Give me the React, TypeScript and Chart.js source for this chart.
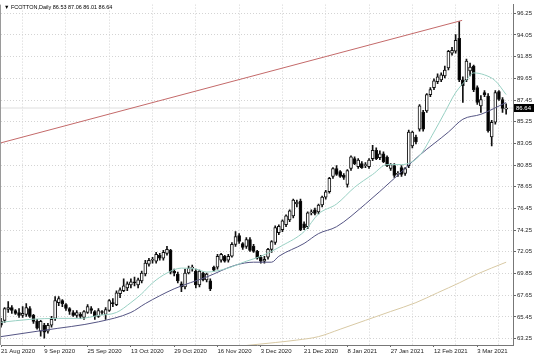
import React, { useEffect, useRef } from 'react';
import { Chart, registerables } from 'chart.js';

Chart.register(...registerables);

const symbolTitle = '\u25BC FCOTTON,Daily';
const lastOHLC = [86.53, 87.06, 86.01, 86.64];
const lastPrice = 86.64;

const dateLabels = ['21 Aug 2020', '9 Sep 2020', '25 Sep 2020', '13 Oct 2020', '29 Oct 2020', '16 Nov 2020', '3 Dec 2020', '21 Dec 2020', '8 Jan 2021', '27 Jan 2021', '12 Feb 2021', '3 Mar 2021'];
const dateLabelBars = [0, 12, 24, 36, 48, 60, 72, 84, 96, 108, 120, 132];
const gridBars = [6, 18, 30, 42, 54, 66, 78, 90, 102, 114, 126, 138];
const yTickValues = [63.25, 65.45, 67.65, 69.85, 72.05, 74.25, 76.45, 78.65, 80.85, 83.05, 85.25, 87.45, 89.65, 91.85, 94.05, 96.25];

const opens = [
  65.0, 65.1, 66.2, 66.4, 66.1, 65.9, 65.6, 65.7, 66.3, 65.6,
  65.0, 64.0, 64.6, 64.0, 64.6, 65.3, 66.9, 67.1, 66.7, 66.3,
  65.9, 65.6, 65.7, 65.4, 65.9, 66.3, 66.0, 65.5, 66.0, 65.7,
  66.1, 66.9, 66.7, 67.8, 68.1, 68.4, 68.7, 69.0, 68.7, 69.1,
  69.8, 70.8, 71.2, 71.1, 71.7, 71.4, 71.9, 72.2, 70.1, 69.8,
  68.8, 68.5, 69.9, 70.4, 70.1, 68.7, 69.9, 69.2, 69.1, 70.5,
  70.5, 71.2, 71.6, 71.2, 71.6, 72.8, 73.7, 72.9, 72.6, 73.3,
  72.6, 72.1, 71.5, 71.1, 71.5, 72.3, 73.0, 74.0, 74.3, 74.8,
  75.3, 75.7, 76.9, 77.2, 74.9, 74.6, 76.0, 76.3, 76.1, 76.8,
  77.6, 78.15, 79.7, 80.5, 80.2, 79.8, 78.9, 80.5, 81.5, 80.7,
  81.0, 80.8, 80.7, 81.5, 82.35, 81.6, 82.0, 81.65, 80.5, 80.8,
  79.9, 80.6, 80.0, 80.8, 82.8, 83.7, 84.5, 86.2, 86.35, 88.0,
  88.7, 89.3, 89.5, 89.9, 90.7, 92.2, 92.4, 93.7, 89.5, 89.5,
  90.4, 90.9, 88.7, 86.85, 88.2, 87.85, 83.7, 85.2, 88.3, 87.5,
  86.53,
];
const highs = [
  65.3, 66.4, 67.0, 66.6, 66.2, 66.3, 66.5, 66.8, 66.5, 65.7,
  65.2, 65.1, 64.8, 64.8, 65.5, 67.5, 67.5, 67.2, 66.8, 66.4,
  66.1, 66.1, 65.9, 66.1, 66.7, 66.5, 66.1, 66.3, 66.1, 66.4,
  67.2, 67.3, 68.1, 68.4, 69.3, 69.0, 69.3, 69.5, 69.4, 70.1,
  71.2, 71.4, 71.5, 72.0, 71.9, 72.2, 72.6, 72.3, 70.3, 70.0,
  69.0, 70.3, 70.6, 70.7, 70.3, 70.2, 70.0, 69.9, 69.3, 70.6,
  71.8, 71.9, 71.7, 71.8, 73.0, 74.1, 73.9, 73.0, 73.5, 73.5,
  72.8, 72.2, 71.7, 71.6, 72.4, 73.2, 74.7, 74.8, 75.3, 75.8,
  76.3, 77.4, 77.3, 77.4, 75.1, 76.1, 76.3, 76.5, 76.9, 77.7,
  78.3, 79.6, 80.6, 80.8, 80.3, 80.0, 80.4, 81.8, 81.7, 81.5,
  81.2, 81.1, 81.5, 82.85, 82.6, 82.3, 82.2, 81.8, 81.0, 81.0,
  80.2, 80.8, 80.6, 84.4, 84.3, 83.9, 87.0, 86.4, 88.1, 88.7,
  89.6, 90.1, 90.2, 90.9, 92.5, 92.8, 94.1, 95.4, 89.8, 91.6,
  91.2, 91.0, 88.9, 87.9, 88.4, 88.1, 85.4, 88.4, 88.4, 87.7,
  87.06,
];
const lows = [
  64.4, 64.9, 65.9, 65.8, 65.7, 65.4, 65.4, 65.5, 65.4, 64.8,
  64.2, 63.5, 63.3, 63.8, 64.4, 65.1, 66.6, 66.5, 66.1, 65.7,
  65.5, 65.4, 65.3, 65.2, 65.8, 65.8, 65.2, 65.4, 65.7, 65.2,
  66.0, 66.5, 66.6, 67.4, 68.0, 68.1, 68.4, 68.6, 68.4, 68.9,
  69.6, 70.6, 70.9, 70.9, 71.2, 71.2, 71.7, 69.8, 69.6, 68.9,
  68.0, 68.3, 69.8, 70.1, 68.4, 68.5, 69.1, 69.0, 68.1, 70.1,
  70.3, 71.0, 71.0, 71.0, 71.5, 72.6, 72.9, 72.3, 72.4, 72.1,
  72.0, 71.3, 70.9, 70.9, 71.3, 72.0, 72.8, 73.8, 74.1, 74.6,
  75.1, 75.5, 76.6, 74.2, 74.3, 74.4, 75.8, 75.8, 75.9, 76.6,
  77.4, 78.0, 79.5, 79.8, 79.6, 79.4, 78.6, 80.3, 80.9, 80.5,
  80.5, 80.6, 80.5, 81.3, 81.4, 81.4, 81.1, 80.7, 80.3, 79.6,
  79.7, 79.7, 79.8, 80.6, 82.6, 83.0, 84.3, 84.3, 86.2, 87.8,
  88.5, 89.1, 89.3, 89.7, 90.5, 92.0, 92.2, 89.3, 87.2, 89.3,
  89.9, 88.3, 87.0, 86.2, 87.8, 84.2, 82.8, 85.0, 87.4, 86.2,
  86.01,
];
const closes = [
  64.6, 66.3, 66.4, 66.1, 65.8, 65.6, 65.8, 66.4, 65.5, 65.0,
  64.3, 65.0, 63.9, 64.6, 65.2, 67.1, 67.3, 66.8, 66.3, 66.0,
  65.6, 65.9, 65.5, 66.0, 66.5, 66.1, 65.5, 66.1, 65.9, 66.2,
  67.1, 66.8, 67.9, 68.2, 68.6, 68.8, 69.0, 68.9, 69.2, 69.9,
  70.9, 71.2, 71.3, 71.8, 71.4, 72.0, 72.3, 70.0, 69.9, 69.1,
  68.5, 69.9, 70.4, 70.5, 68.7, 70.1, 69.2, 69.8, 68.3, 70.2,
  71.6, 71.8, 71.1, 71.6, 72.8, 73.6, 73.1, 72.5, 73.3, 72.2,
  72.1, 71.4, 71.1, 71.3, 72.3, 73.1, 74.5, 74.65, 75.2, 75.7,
  76.2, 77.3, 77.1, 74.3, 74.5, 76.0, 76.1, 75.96, 76.8, 77.6,
  78.15, 79.5, 80.5, 79.9, 79.7, 79.6, 80.3, 81.7, 81.0, 81.35,
  80.6, 80.9, 81.35, 82.35, 81.5, 82.0, 81.2, 80.8, 80.9, 79.8,
  80.0, 79.9, 80.5, 84.2, 84.2, 83.2, 86.85, 84.5, 88.0, 88.5,
  89.4, 89.8, 90.0, 90.5, 92.4, 92.5, 93.5, 89.5, 88.9, 91.4,
  90.8, 88.5, 87.2, 87.5, 88.0, 84.35, 85.2, 88.2, 87.5, 86.6,
  86.64,
];

const fastMaBars = [0, 8, 16, 22, 27, 32, 36, 39, 42, 46, 50, 54, 57, 62, 68, 72, 78, 84, 88, 93, 98, 103, 107, 111, 116, 120, 123, 126, 129, 131, 134, 137, 140];
const fastMaValues = [64.9, 65.2, 65.3, 65.3, 65.6, 65.9, 66.9, 67.8, 68.9, 69.9, 70.4, 70.3, 70.0, 70.3, 71.1, 71.6, 72.7, 74.1, 75.9, 76.9, 78.6, 79.9, 80.9, 80.9, 81.8, 84.2, 86.2, 88.2, 89.5, 90.2, 90.0, 89.4, 88.0];

const slowMaBars = [0, 12, 27, 36, 40, 48, 57, 65, 70, 75, 77, 84, 88, 93, 101, 109, 116, 124, 128, 133, 140];
const slowMaValues = [63.45, 64.1, 64.95, 65.9, 66.8, 68.3, 69.5, 70.7, 71.0, 71.0, 71.6, 72.9, 73.9, 74.6, 76.9, 79.5, 81.85, 84.2, 85.5, 86.0, 87.2];

const longMaBars = [68, 76, 82, 88, 94, 101, 108, 115, 121, 127, 132, 140];
const longMaValues = [62.55, 62.85, 63.1, 63.45, 64.2, 65.1, 66.0, 66.9, 67.9, 68.9, 69.8, 71.0];

const trendBars = [-0.3, 127.8];
const trendValues = [83.08, 95.53];

const AXIS_FONT = { family: '"Liberation Sans", Arial, sans-serif', size: 6 };

export default function App() {
  const ref = useRef<HTMLCanvasElement | null>(null);

  useEffect(() => {
    document.body.style.margin = '0';
    const canvas = ref.current;
    if (!canvas) return;

    const toPts = (xs: number[], ys: number[]) => xs.map((x, i) => ({ x, y: ys[i] }));
    const bodies = opens.map((o, i) => ({ x: i, y: [o, closes[i]] }));
    const wicks = lows.map((l, i) => ({ x: i, y: [l, highs[i]] }));
    const bodyColors = opens.map((o, i) => (closes[i] >= o ? '#ffffff' : '#000000'));

    const overlayPlugin = {
      id: 'overlay',
      afterDraw(chart: any) {
        const { ctx, chartArea } = chart;
        const yScale = chart.scales.y;
        ctx.save();
        ctx.strokeStyle = '#9a9a9a';
        ctx.lineWidth = 1;
        ctx.beginPath();
        ctx.moveTo(chartArea.left - 0.5, chartArea.top);
        ctx.lineTo(chartArea.left - 0.5, chartArea.bottom);
        ctx.stroke();
        ctx.fillStyle = '#000';
        ctx.font = '5.5px "Liberation Sans", Arial, sans-serif';
        ctx.textBaseline = 'middle';
        ctx.textAlign = 'left';
        ctx.fillText(symbolTitle + ' ' + lastOHLC.map((v) => v.toFixed(2)).join(' '), 4, 7);
        const py = yScale.getPixelForValue(lastPrice);
        ctx.fillStyle = '#000';
        ctx.fillRect(chartArea.right + 1, py - 4, 20, 8);
        ctx.fillStyle = '#fff';
        ctx.font = '6px "Liberation Sans", Arial, sans-serif';
        ctx.fillText(lastPrice.toFixed(2), chartArea.right + 3, py + 0.5);
        ctx.restore();
      },
    };

    const chart = new Chart(canvas, {
      type: 'bar',
      data: {
        datasets: [
          {
            type: 'line',
            data: [{ x: -1, y: lastPrice }, { x: 145, y: lastPrice }],
            borderColor: '#dedede',
            borderWidth: 1,
            pointRadius: 0,
            order: 6,
          } as any,
          {
            type: 'bar',
            data: wicks as any,
            backgroundColor: '#111111',
            barThickness: 1,
            grouped: false,
            order: 5,
          },
          {
            type: 'bar',
            data: bodies as any,
            backgroundColor: bodyColors,
            borderColor: '#111111',
            borderWidth: 1,
            borderSkipped: false,
            barThickness: 3,
            minBarLength: 1,
            grouped: false,
            order: 4,
          },
          {
            type: 'line',
            data: toPts(longMaBars, longMaValues),
            borderColor: '#d8c9a4',
            borderWidth: 1,
            pointRadius: 0,
            cubicInterpolationMode: 'monotone',
            order: 3,
          } as any,
          {
            type: 'line',
            data: toPts(slowMaBars, slowMaValues),
            borderColor: '#555584',
            borderWidth: 1,
            pointRadius: 0,
            cubicInterpolationMode: 'monotone',
            order: 2,
          } as any,
          {
            type: 'line',
            data: toPts(fastMaBars, fastMaValues),
            borderColor: '#98d0c3',
            borderWidth: 1,
            pointRadius: 0,
            cubicInterpolationMode: 'monotone',
            order: 1,
          } as any,
          {
            type: 'line',
            data: toPts(trendBars, trendValues),
            borderColor: '#c46a6a',
            borderWidth: 1,
            pointRadius: 0,
            order: 0,
          } as any,
        ],
      },
      options: {
        responsive: false,
        devicePixelRatio: 1,
        animation: false,
        events: [],
        layout: { padding: { left: 1, top: 1, right: 0, bottom: 0 } },
        plugins: { legend: { display: false }, tooltip: { enabled: false } },
        scales: {
          x: {
            type: 'linear',
            min: 0,
            max: 141.9,
            offset: false,
            afterFit: (s: any) => { s.height = 12; },
            afterBuildTicks: (s: any) => {
              s.ticks = [...dateLabelBars, ...gridBars].sort((a, b) => a - b).map((v) => ({ value: v }));
            },
            grid: {
              offset: false,
              color: (c: any) => (c.tick && gridBars.includes(c.tick.value) ? '#d4d4d4' : 'rgba(0,0,0,0)'),
              tickColor: (c: any) => (c.tick && dateLabelBars.includes(c.tick.value) ? '#666' : 'rgba(0,0,0,0)'),
              tickLength: 2,
              lineWidth: 1,
            },
            border: { display: true, color: '#777', dash: [1, 2] },
            ticks: {
              autoSkip: false,
              maxRotation: 0,
              minRotation: 0,
              align: 'start',
              padding: 1,
              color: '#222',
              font: AXIS_FONT,
              callback: (v: any) => {
                const k = dateLabelBars.indexOf(Number(v));
                return k >= 0 ? dateLabels[k] : '';
              },
            },
          } as any,
          y: {
            type: 'linear',
            position: 'right',
            min: 62.6,
            max: 97.13,
            afterFit: (s: any) => { s.width = 23; },
            afterBuildTicks: (s: any) => {
              s.ticks = yTickValues.map((v) => ({ value: v }));
            },
            grid: {
              color: '#d4d4d4',
              tickColor: '#666',
              tickLength: 3,
              lineWidth: 1,
            },
            border: { display: true, color: '#777', dash: [1, 2] },
            ticks: {
              padding: 1,
              color: '#222',
              font: AXIS_FONT,
              callback: (v: any) => Number(v).toFixed(2),
            },
          } as any,
        },
      },
      plugins: [overlayPlugin],
    });

    return () => chart.destroy();
  }, []);

  return (
    <div style={{ width: 536, height: 357, background: '#fff' }}>
      <canvas ref={ref} width={536} height={357} style={{ display: 'block', width: 536, height: 357 }} />
    </div>
  );
}
